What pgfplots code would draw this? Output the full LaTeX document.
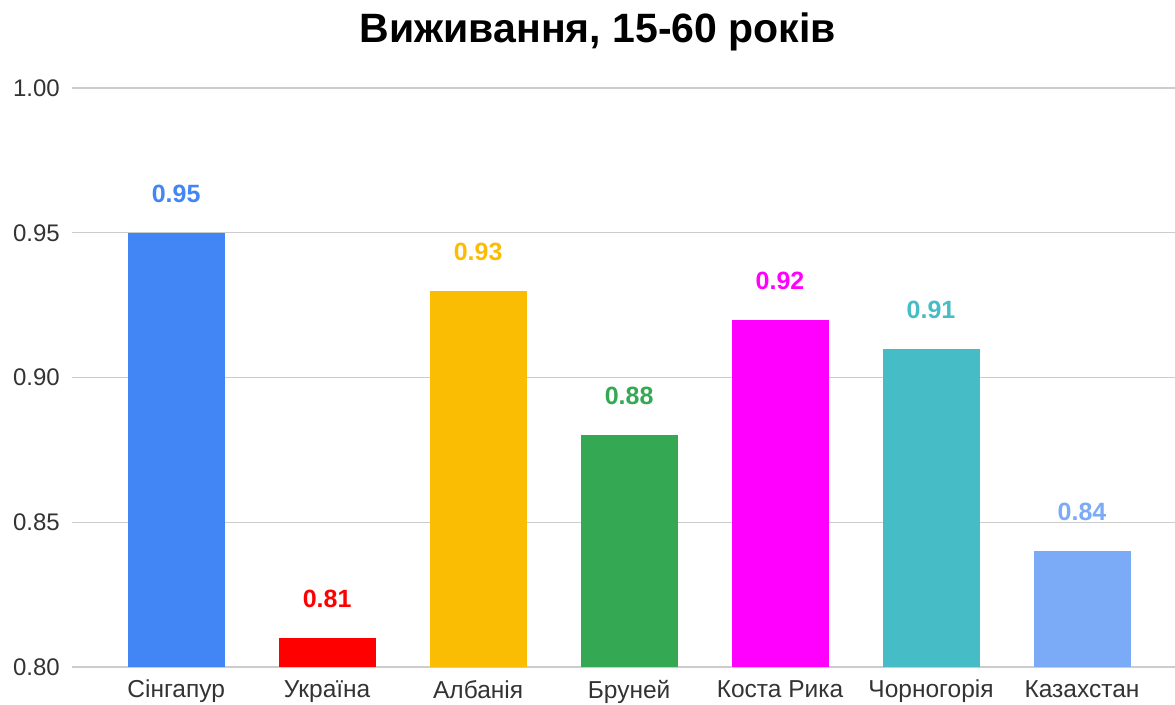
\documentclass[border=0pt]{standalone}
\usepackage{fontspec}
\setmainfont{Liberation Sans}
\usepackage{pgfplots}
\pgfplotsset{compat=1.18}
\definecolor{c1}{HTML}{4285F4}
\definecolor{c2}{HTML}{FF0000}
\definecolor{c3}{HTML}{FBBC04}
\definecolor{c4}{HTML}{34A853}
\definecolor{c5}{HTML}{FF00FF}
\definecolor{c6}{HTML}{46BDC6}
\definecolor{c7}{HTML}{7BAAF7}
\definecolor{tick}{HTML}{333333}
\definecolor{gridc}{HTML}{CCCCCC}
\begin{document}
\begin{tikzpicture}[x=1pt,y=1pt]
\path[use as bounding box] (0,0) rectangle (1175,704);
\node[font=\fontsize{41}{45}\selectfont\bfseries, anchor=center] at (598,672) {Виживання, 15-60 років};
\begin{axis}[
  at={(72pt,37pt)}, anchor=south west,
  scale only axis, width=1103pt, height=579pt,
  xmin=-0.69, xmax=6.616, ymin=0.8, ymax=1.0,
  ytick={0.80,0.85,0.90,0.95,1.00},
  xtick={0,1,2,3,4,5,6},
  xticklabels={Сінгапур,Україна,Албанія,Бруней,Коста Рика,Чорногорія,Казахстан},
  axis line style={draw=none},
  major tick length=0pt,
  ymajorgrids, grid style={draw=gridc, line width=1.3pt},
  /pgf/number format/.cd, fixed, fixed zerofill, precision=2, assume math mode=true,
  /pgfplots/.cd,
  yticklabel style={font=\fontsize{24}{28}\selectfont, text=tick, anchor=east, inner sep=0pt, xshift=-12pt},
  xticklabel style={font=\fontsize{24.5}{28}\selectfont, text=tick, anchor=north, inner sep=0pt, yshift=-13pt},
  ybar, bar width=97pt,
  nodes near coords={\pgfmathprintnumber[fixed,fixed zerofill,precision=2]{\pgfplotspointmeta}},
  every node near coord/.append style={font=\fontsize{25}{29}\selectfont\bfseries, anchor=south, inner sep=0pt, yshift=30pt},
]
\addplot[bar shift=0pt, fill=c1, draw=none, nodes near coords style={text=c1}] coordinates {(0,0.95)};
\addplot[bar shift=0pt, fill=c2, draw=none, nodes near coords style={text=c2}] coordinates {(1,0.81)};
\addplot[bar shift=0pt, fill=c3, draw=none, nodes near coords style={text=c3}] coordinates {(2,0.93)};
\addplot[bar shift=0pt, fill=c4, draw=none, nodes near coords style={text=c4}] coordinates {(3,0.88)};
\addplot[bar shift=0pt, fill=c5, draw=none, nodes near coords style={text=c5}] coordinates {(4,0.92)};
\addplot[bar shift=0pt, fill=c6, draw=none, nodes near coords style={text=c6}] coordinates {(5,0.91)};
\addplot[bar shift=0pt, fill=c7, draw=none, nodes near coords style={text=c7}] coordinates {(6,0.84)};
\end{axis}
\end{tikzpicture}
\end{document}
